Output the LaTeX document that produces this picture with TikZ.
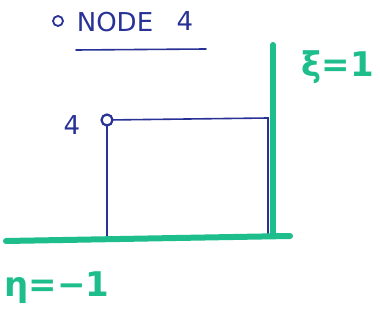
\documentclass[tikz,border=0pt]{standalone}
\usepackage{fontspec}
\setmainfont{DejaVu Sans}
\definecolor{pen}{RGB}{40,50,150}
\definecolor{mint}{RGB}{30,190,140}
\begin{document}
\begin{tikzpicture}[x=1pt,y=-1pt,
  penline/.style={pen,line width=1.6pt,line cap=round},
  mintline/.style={mint,line width=6pt,line cap=round},
  penlabel/.style={pen,inner sep=0pt,anchor=center,font=\fontsize{26}{26}\selectfont},
  mintlabel/.style={mint,inner sep=0pt,font=\fontsize{34}{34}\selectfont\bfseries,anchor=center}]
\useasboundingbox[fill=white] (0,0) rectangle (380,331);
% title
\node[penlabel] (title) at (115,22) {NODE};
\node[penlabel] (titlenum) at (185,21) {4};
\coordinate (dot) at (58,21);
\draw[pen,line width=1.8pt] (dot) circle (5);
\coordinate (ulA) at (76,50);
\coordinate (ulB) at (206,49);
\draw[penline] (ulA) -- (ulB);
% element corners
\coordinate (n4) at (107,120);
\coordinate (tr) at (268,118);
\coordinate (br) at (268,237);
\coordinate (bl) at (107,239);
\draw[penline] (n4) -- (tr) -- (br);
\draw[penline] (n4) -- (bl) -- (br);
\draw[pen,line width=2.2pt,fill=white] (n4) circle (5.5);
\node[penlabel] (lab4) at (72,125) {4};
% boundary lines
\coordinate (xiTop) at (273,45);
\coordinate (xiBot) at (273,236);
\draw[mintline] (xiTop) -- (xiBot);
\coordinate (etaL) at (6,241);
\coordinate (etaR) at (290,236);
\draw[mintline] (etaL) -- (etaR);
\node[mintlabel] (xi) at (338,67) {ξ=1};
\node[mintlabel] (eta) at (57,288) {η=−1};
\end{tikzpicture}
\end{document}
